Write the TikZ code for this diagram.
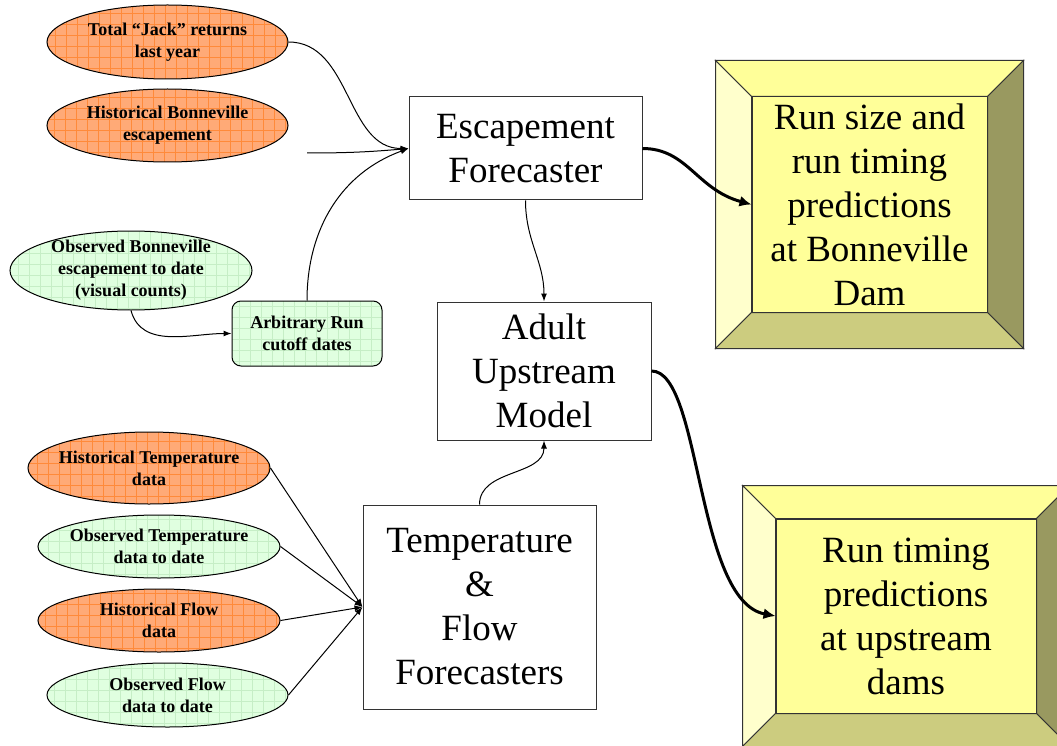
\documentclass[tikz,border=0pt]{standalone}
\usepackage{fontspec}
\setmainfont{Liberation Serif}
\usetikzlibrary{shapes.geometric,arrows.meta}

\definecolor{dataorange}{HTML}{FFAA77}
\definecolor{gridorange}{HTML}{FF8A3A}
\definecolor{datagreen}{HTML}{E0FFE0}
\definecolor{gridgreen}{HTML}{C6EEC6}
\definecolor{faceyellow}{HTML}{FFFF99}
\definecolor{lightbevel}{HTML}{FFFFCC}
\definecolor{darkbevel}{HTML}{999960}
\definecolor{lowbevel}{HTML}{CCCC7F}

\begin{document}
\begin{tikzpicture}[x=1pt,y=-1pt,->,>={Latex[length=8pt,width=6pt]},line width=1pt,
      big text/.style={font=\fontsize{37}{44}\selectfont,align=center},
      small text/.style={font=\fontsize{18}{22}\selectfont\bfseries,align=center},
      data node/.style={ellipse,draw,small text,minimum width=241pt,minimum height=64pt,
        inner xsep=-10pt,inner ysep=-6pt},
      orange node/.style={data node,fill=dataorange,path picture={\draw[gridorange,line width=0.5pt,-]
        (path picture bounding box.south west) grid[step=11pt] (path picture bounding box.north east);}},
      green node/.style={data node,fill=datagreen,path picture={\draw[gridgreen,line width=0.5pt,-]
        (path picture bounding box.south west) grid[step=11pt] (path picture bounding box.north east);}},
      model box/.style={draw=black!80,fill=white,big text,inner sep=0pt},
      face box/.style={draw=black!80,fill=faceyellow,big text,inner sep=0pt},
      bevel/.style={draw=black!80,-},
      thick arrow/.style={line width=3pt,-{Latex[length=12pt,width=11pt]}}]
    \useasboundingbox (0,0) rectangle (1057,746);
    \clip (0,0) rectangle (1057,746);

    \node[orange node,minimum height=74pt] (jack) at (167.5,42) {Total ``Jack'' returns\\last year};
    \node[orange node,minimum height=73pt] (histesc) at (167.5,125.5) {Historical Bonneville\\escapement};
    \node[green node,minimum width=242pt,minimum height=79pt] (obsesc) at (131,270.5)
      {Observed Bonneville\\escapement to date\\(visual counts)};
    \node[draw,small text,fill=datagreen,rounded corners=9pt,minimum width=150pt,minimum height=65pt,
      inner sep=0pt,path picture={\draw[gridgreen,line width=0.5pt,-]
        (path picture bounding box.south west) grid[step=11pt] (path picture bounding box.north east);}]
      (arb) at (307,333.5) {Arbitrary Run\\cutoff dates};
    \coordinate (escin) at (307,153);

    \node[orange node,minimum width=242pt,minimum height=72pt] (histtemp) at (149,468) {Historical Temperature\\data};
    \node[green node,minimum width=242pt,minimum height=63pt] (obstemp) at (159,546.5) {Observed Temperature\\data to date};
    \node[orange node,minimum width=242pt,minimum height=63pt] (histflow) at (159,620.5) {Historical Flow\\data};
    \node[green node] (obsflow) at (167.5,695) {Observed Flow\\data to date};

    \node[model box,minimum width=233pt,minimum height=103pt] (esc) at (525.5,148.5) {Escapement\\Forecaster};
    \node[model box,minimum width=214pt,minimum height=138pt] (adult) at (544,371) {Adult\\Upstream\\Model};
    \node[model box,minimum width=233pt,minimum height=204pt] (temp) at (479.5,607)
      {Temperature\\\&\\Flow\\Forecasters};

    \node[face box,minimum width=235pt,minimum height=215pt] (runsize) at (869.5,204.5)
      {Run size and\\run timing\\predictions\\at Bonneville\\Dam};
    \node[face box,minimum width=260pt,minimum height=194pt] (runtiming) at (906,616)
      {Run timing\\predictions\\at upstream\\dams};
    \foreach \n/\b in {runsize/36,runtiming/33} {
      \coordinate (onw) at ([shift={(-\b,-\b)}]\n.north west);
      \coordinate (one) at ([shift={(\b,-\b)}]\n.north east);
      \coordinate (osw) at ([shift={(-\b,\b)}]\n.south west);
      \coordinate (ose) at ([shift={(\b,\b)}]\n.south east);
      \filldraw[bevel,fill=faceyellow] (onw) -- (one) -- (\n.north east) -- (\n.north west) -- cycle;
      \filldraw[bevel,fill=lightbevel] (onw) -- (\n.north west) -- (\n.south west) -- (osw) -- cycle;
      \filldraw[bevel,fill=darkbevel] (one) -- (ose) -- (\n.south east) -- (\n.north east) -- cycle;
      \filldraw[bevel,fill=lowbevel] (osw) -- (\n.south west) -- (\n.south east) -- (ose) -- cycle;
    }

    \draw (jack.east) to[out=0,in=180] (esc.west);
    \draw (escin) to[out=0,in=185] (esc.west);
    \draw (arb.north) to[out=90,in=200] (esc.west);
    \draw (obsesc.south) to[out=-75,in=180] (arb.west);
    \draw (esc.south) to[out=-90,in=90] (adult.north);
    \draw (temp.north) to[out=90,in=-90] (adult.south);
    \foreach \d in {histtemp,obstemp,histflow,obsflow}
      \draw (\d.east) -- (temp.west);
    \draw[thick arrow] (esc.east) .. controls +(45,0) and +(-55,-15) .. (runsize.west);
    \draw[thick arrow] (adult.east) .. controls +(50,0) and +(-80,-15) .. (runtiming.west);
  \end{tikzpicture}
\end{document}
